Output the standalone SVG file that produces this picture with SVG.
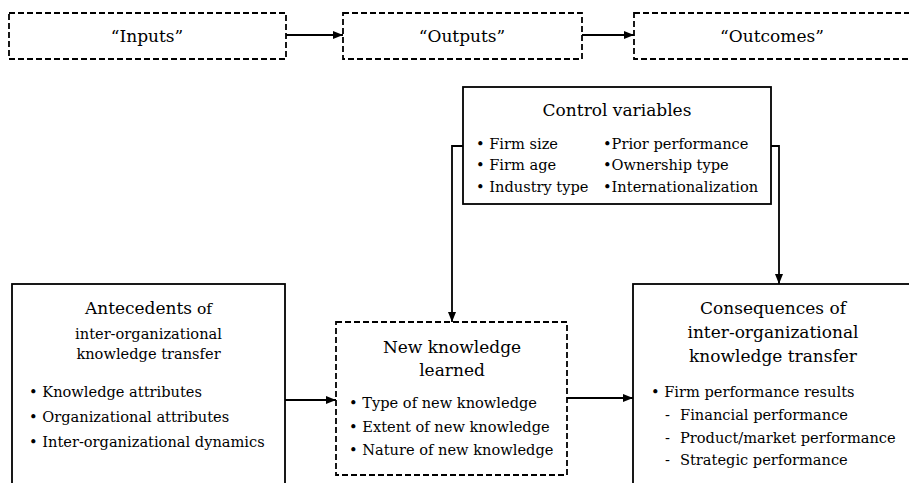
<svg xmlns="http://www.w3.org/2000/svg" width="909" height="483" viewBox="0 0 909 483">
<defs>
<style>
text{font-family:'DejaVu Serif','Liberation Serif',serif;fill:#000;}
.t{font-size:17px;text-anchor:middle;}
.h{font-size:17px;text-anchor:middle;}
.b{font-size:14.6px;}
.box{fill:#fff;stroke:#000;stroke-width:1.8;}
.dash{fill:#fff;stroke:#000;stroke-width:1.8;stroke-dasharray:6 3;}
.con{fill:none;stroke:#000;stroke-width:1.8;}
</style>
<marker id="ah" viewBox="0 0 10 10" refX="10" refY="5" markerWidth="10" markerHeight="10" markerUnits="userSpaceOnUse" orient="auto">
<path d="M0,1 L10,5 L0,9 Z" fill="#000"/>
</marker>
</defs>
<rect width="909" height="483" fill="#fff"/>
<g id="inputs">
<rect class="dash" x="9" y="13" width="277" height="46"/>
<text class="h" x="147" y="42">“Inputs”</text>
</g>
<g id="outputs">
<rect class="dash" x="343" y="13" width="239" height="46"/>
<text class="h" x="462" y="42">“Outputs”</text>
</g>
<g id="outcomes">
<rect class="dash" x="634" y="13" width="285" height="46"/>
<text class="h" x="772" y="42">“Outcomes”</text>
</g>
<g id="control">
<rect class="box" x="463" y="87" width="308" height="117"/>
<text class="h" x="617" y="116">Control variables</text>
<text class="b" x="476" y="149">• Firm size</text>
<text class="b" x="476" y="170">• Firm age</text>
<text class="b" x="476" y="192">• Industry type</text>
<text class="b" x="603" y="149">•Prior performance</text>
<text class="b" x="603" y="170">•Ownership type</text>
<text class="b" x="603" y="192">•Internationalization</text>
</g>
<g id="antecedents">
<rect class="box" x="12" y="284" width="273" height="210"/>
<text class="t" x="148.5" y="314">Antecedents<tspan font-size="15.5"> of</tspan></text>
<text class="b" x="148.5" y="339" text-anchor="middle">inter-organizational</text>
<text class="b" x="148.5" y="359" text-anchor="middle">knowledge transfer</text>
<text class="b" x="29" y="397">• Knowledge attributes</text>
<text class="b" x="29" y="422">• Organizational attributes</text>
<text class="b" x="29" y="447">• Inter-organizational dynamics</text>
</g>
<g id="newknowledge">
<rect class="dash" x="336" y="322" width="231" height="153"/>
<text class="h" x="452" y="353">New knowledge</text>
<text class="h" x="452" y="376">learned</text>
<text class="b" x="349" y="408">• Type of new knowledge</text>
<text class="b" x="349" y="432">• Extent of new knowledge</text>
<text class="b" x="349" y="455">• Nature of new knowledge</text>
</g>
<g id="consequences">
<rect class="box" x="633" y="284" width="290" height="210"/>
<text class="t" x="773" y="314">Consequences of</text>
<text class="t" x="773" y="338">inter-organizational</text>
<text class="t" x="773" y="362">knowledge transfer</text>
<text class="b" x="651" y="397">• Firm performance results</text>
<text class="b" y="420"><tspan x="665">-</tspan><tspan x="680">Financial performance</tspan></text>
<text class="b" y="443"><tspan x="665">-</tspan><tspan x="680">Product/market performance</tspan></text>
<text class="b" y="465"><tspan x="665">-</tspan><tspan x="680">Strategic performance</tspan></text>
</g>
<g id="connectors">
<line class="con" x1="286" y1="35" x2="343" y2="35" marker-end="url(#ah)"/>
<line class="con" x1="582" y1="35" x2="634" y2="35" marker-end="url(#ah)"/>
<polyline class="con" points="463,146 452,146 452,322" marker-end="url(#ah)"/>
<polyline class="con" points="771,146 779,146 779,284" marker-end="url(#ah)"/>
<line class="con" x1="285" y1="400" x2="336" y2="400" marker-end="url(#ah)"/>
<line class="con" x1="567" y1="398" x2="633" y2="398" marker-end="url(#ah)"/>
</g>
</svg>
